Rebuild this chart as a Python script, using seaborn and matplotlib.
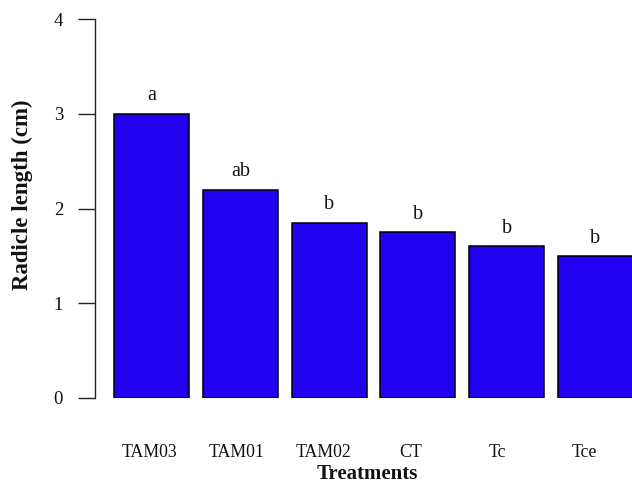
import numpy as np
import pandas as pd
import matplotlib
matplotlib.use('Agg')
import matplotlib.pyplot as plt
import seaborn as sns

treatments = ['TAM03', 'TAM01', 'TAM02', 'CT', 'Tc', 'Tce']
radicle_length = [3.0, 2.2, 1.85, 1.75, 1.6, 1.5]
groups = ['a', 'ab', 'b', 'b', 'b', 'b']

df = pd.DataFrame({'Treatments': treatments, 'Radicle': radicle_length})

sns.set_style('white')
plt.rcParams['font.family'] = ['Liberation Serif', 'DejaVu Serif']
plt.rcParams['text.color'] = '#111111'
plt.rcParams['axes.labelcolor'] = '#111111'
plt.rcParams['xtick.color'] = '#111111'
plt.rcParams['ytick.color'] = '#111111'

fig = plt.figure(figsize=(6.32, 4.87), dpi=100)
ax = fig.add_axes([95 / 632, 89 / 487, 537 / 632, 379 / 487])

sns.barplot(data=df, x='Treatments', y='Radicle', color='#2200F0',
            saturation=1, edgecolor='black', linewidth=1.1, width=0.845, ax=ax)

# significance letters over the bars
for i, (v, g) in enumerate(zip(radicle_length, groups)):
    ax.text(i, v + 0.14, g, ha='center', va='baseline', fontsize=14.5)

ax.set_xlim(-0.636, 5.411)
ax.set_ylim(0, 4)
ax.set_yticks([0, 1, 2, 3, 4])
ax.set_yticklabels(['0', '1', '2', '3', '4'], fontsize=13.5)

# labels in R sit a little off the bar centres
ax.set_xticks(np.arange(len(treatments)) * 0.9786 - 0.017)
ax.set_xticklabels(treatments, fontsize=12.8)

ax.tick_params(axis='x', length=0, pad=33)
ax.tick_params(axis='y', length=12, width=1, color='#222222', pad=11, left=True)

for s in ['top', 'right', 'bottom']:
    ax.spines[s].set_visible(False)
ax.spines['left'].set_color('#222222')
ax.spines['left'].set_linewidth(1)

ax.set_xlabel('Treatments', fontsize=15, fontweight='bold')
ax.set_ylabel('Radicle length (cm)', fontsize=16.5, fontweight='bold')
ax.xaxis.set_label_coords(0.508, -0.175)
ax.yaxis.set_label_coords(-0.115, 0.536)

fig.savefig('out.png', dpi=100)
